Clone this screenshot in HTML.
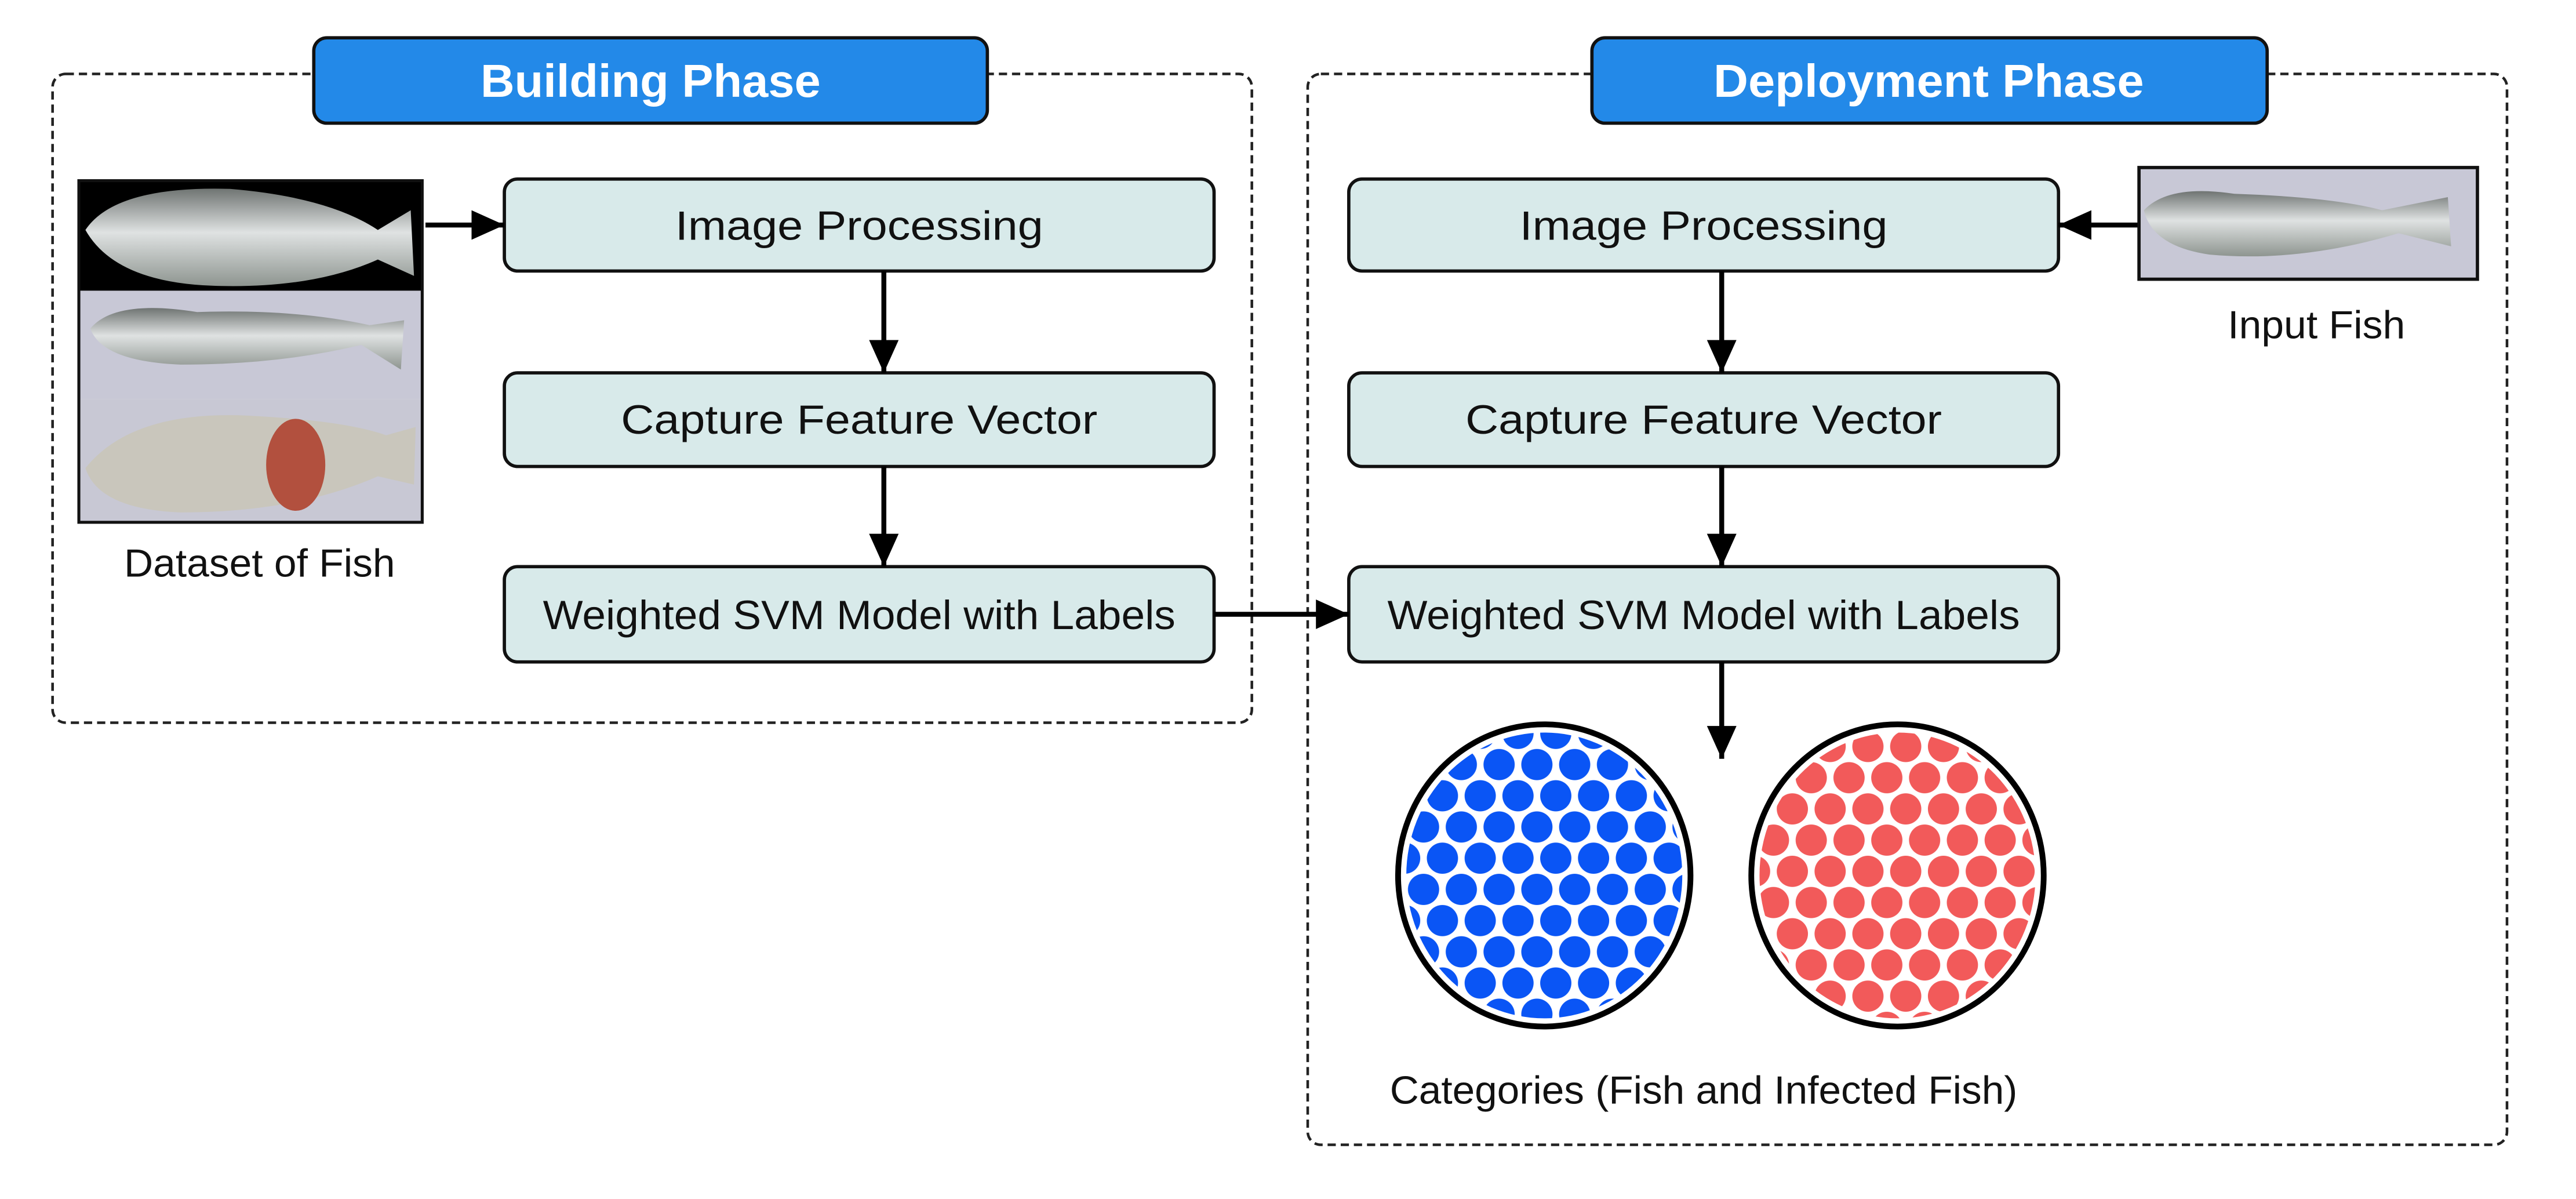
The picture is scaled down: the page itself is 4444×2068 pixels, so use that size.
<!DOCTYPE html>
<html><head><meta charset="utf-8"><style>
html,body{margin:0;padding:0;background:#fff;}
svg{display:block;}
text{font-family:"Liberation Sans",Arial,sans-serif;}
</style></head><body>
<svg width="4444" height="2068" viewBox="0 0 1568 730" preserveAspectRatio="none" xmlns="http://www.w3.org/2000/svg">
<defs>
<marker id="ah" markerWidth="20" markerHeight="20" refX="20" refY="10" orient="auto" markerUnits="userSpaceOnUse" viewBox="0 0 20 20">
<path d="M0,1 L20,10 L0,19 z" fill="#000"/></marker>
<pattern id="pb" width="23" height="38" patternUnits="userSpaceOnUse" x="4" y="0">
<circle cx="11.5" cy="9.5" r="9.5" fill="#0a55f5"/><circle cx="0" cy="28.5" r="9.5" fill="#0a55f5"/><circle cx="23" cy="28.5" r="9.5" fill="#0a55f5"/></pattern>
<pattern id="pr" width="23" height="38" patternUnits="userSpaceOnUse" x="10" y="8">
<circle cx="11.5" cy="9.5" r="9.5" fill="#f25a5a"/><circle cx="0" cy="28.5" r="9.5" fill="#f25a5a"/><circle cx="23" cy="28.5" r="9.5" fill="#f25a5a"/></pattern>
<clipPath id="cb"><ellipse cx="940" cy="533" rx="84" ry="87"/></clipPath>
<clipPath id="cr"><ellipse cx="1155" cy="533" rx="84" ry="87"/></clipPath>
<linearGradient id="fish" x1="0" y1="0" x2="0" y2="1"><stop offset="0" stop-color="#6f7472"/><stop offset="0.45" stop-color="#dfe2e2"/><stop offset="1" stop-color="#8e9590"/></linearGradient>
</defs>

<rect x="32" y="45" width="730" height="395" rx="8" fill="none" stroke="#222" stroke-width="1.6" stroke-dasharray="5,3"/>
<rect x="796" y="45" width="730" height="652" rx="8" fill="none" stroke="#222" stroke-width="1.6" stroke-dasharray="5,3"/>

<rect x="191" y="23" width="410" height="52" rx="8" fill="#2389e8" stroke="#111" stroke-width="2"/>
<text x="396" y="59" font-size="28" font-weight="bold" fill="#fff" text-anchor="middle" textLength="207" lengthAdjust="spacingAndGlyphs">Building Phase</text>
<rect x="969" y="23" width="411" height="52" rx="8" fill="#2389e8" stroke="#111" stroke-width="2"/>
<text x="1174" y="59" font-size="28" font-weight="bold" fill="#fff" text-anchor="middle" textLength="262" lengthAdjust="spacingAndGlyphs">Deployment Phase</text>

<g fill="#d8eaea" stroke="#111" stroke-width="2">
<rect x="307" y="109" width="432" height="56" rx="8"/>
<rect x="307" y="227" width="432" height="57" rx="8"/>
<rect x="307" y="345" width="432" height="58" rx="8"/>
<rect x="821" y="109" width="432" height="56" rx="8"/>
<rect x="821" y="227" width="432" height="57" rx="8"/>
<rect x="821" y="345" width="432" height="58" rx="8"/>
</g>
<g font-size="25" fill="#111" text-anchor="middle" lengthAdjust="spacingAndGlyphs">
<text x="523" y="146" textLength="224" lengthAdjust="spacingAndGlyphs">Image Processing</text>
<text x="523" y="264" textLength="290" lengthAdjust="spacingAndGlyphs">Capture Feature Vector</text>
<text x="523" y="383" textLength="385" lengthAdjust="spacingAndGlyphs">Weighted SVM Model with Labels</text>
<text x="1037" y="146" textLength="224" lengthAdjust="spacingAndGlyphs">Image Processing</text>
<text x="1037" y="264" textLength="290" lengthAdjust="spacingAndGlyphs">Capture Feature Vector</text>
<text x="1037" y="383" textLength="385" lengthAdjust="spacingAndGlyphs">Weighted SVM Model with Labels</text>
</g>

<g stroke="#000" stroke-width="3" fill="none" marker-end="url(#ah)">
<line x1="538" y1="165" x2="538" y2="227"/>
<line x1="538" y1="284" x2="538" y2="345"/>
<line x1="1048" y1="165" x2="1048" y2="227"/>
<line x1="1048" y1="284" x2="1048" y2="345"/>
<line x1="1048" y1="403" x2="1048" y2="462"/>
<line x1="259" y1="137" x2="307" y2="137"/>
<line x1="1302" y1="137" x2="1253" y2="137"/>
<line x1="739" y1="374" x2="821" y2="374"/>
</g>

<rect x="48" y="110" width="209" height="67" fill="#000"/>
<rect x="48" y="177" width="209" height="66" fill="#c8c8d6"/>
<rect x="48" y="243" width="209" height="75" fill="#c8c8d4"/>
<path d="M52,140 Q70,113 140,115 Q200,120 230,140 L250,128 L252,168 L230,158 Q190,176 130,174 Q70,172 52,140z" fill="url(#fish)"/>
<path d="M55,200 Q70,182 120,190 Q180,188 225,198 L246,195 L244,225 L220,210 Q170,222 110,222 Q62,220 55,200z" fill="url(#fish)"/>
<path d="M52,285 Q80,250 150,253 Q210,256 235,265 L253,260 L252,295 L230,290 Q180,312 110,312 Q60,310 52,285z" fill="#c9c6bc"/>
<ellipse cx="180" cy="283" rx="18" ry="28" fill="#b2503e"/>
<rect x="48" y="110" width="209" height="208" fill="none" stroke="#111" stroke-width="1.8"/>
<text x="158" y="351" font-size="24" fill="#111" text-anchor="middle" textLength="165" lengthAdjust="spacingAndGlyphs">Dataset of Fish</text>

<rect x="1302" y="102" width="206" height="68" fill="#c8c8d6" stroke="#111" stroke-width="2"/>
<path d="M1305,128 Q1320,112 1360,118 Q1420,120 1450,128 L1490,120 L1492,150 L1460,142 Q1400,160 1345,155 Q1310,150 1305,128z" fill="url(#fish)"/>
<text x="1410" y="206" font-size="24" fill="#111" text-anchor="middle" textLength="108" lengthAdjust="spacingAndGlyphs">Input Fish</text>

<rect x="850" y="440" width="180" height="190" fill="url(#pb)" clip-path="url(#cb)"/>
<rect x="1065" y="440" width="180" height="190" fill="url(#pr)" clip-path="url(#cr)"/>
<ellipse cx="940" cy="533" rx="89" ry="92" fill="none" stroke="#000" stroke-width="3.5"/>
<ellipse cx="1155" cy="533" rx="89" ry="92" fill="none" stroke="#000" stroke-width="3.5"/>
<text x="1037" y="672" font-size="24" fill="#111" text-anchor="middle" textLength="382" lengthAdjust="spacingAndGlyphs">Categories (Fish and Infected Fish)</text>
</svg>
</body></html>
